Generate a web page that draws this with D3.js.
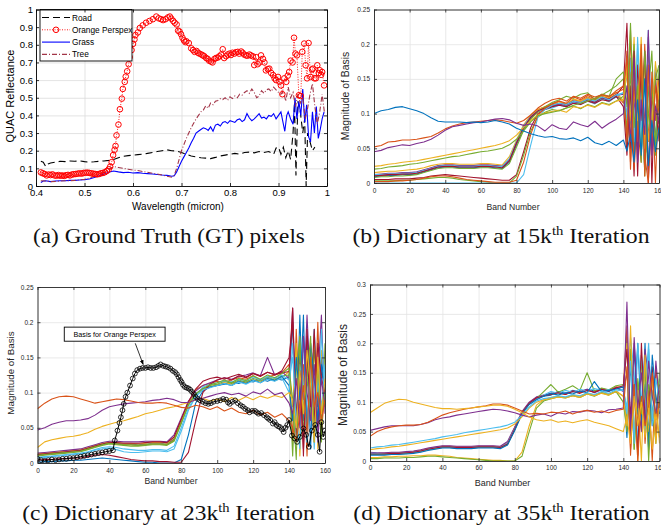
<!DOCTYPE html>
<html>
<head>
<meta charset="utf-8">
<script src="https://cdn.jsdelivr.net/npm/d3@7"></script>
<style>
  body { margin: 0; background: #fff; }
  svg { display: block; }
</style>
</head>
<body>
<div id="chart"></div>
<script>
// ---------- (a) ground truth spectra, [wavelength (micron), reflectance] ----------
var roadPts = [[.410,.140],[.415,.135],[.420,.110],[.425,.125],[.430,.130],[.440,.135],[.450,.140],[.460,.138],[.470,.142],[.480,.140],[.490,.142],[.500,.138],[.510,.135],[.520,.137],[.530,.140],[.540,.142],[.550,.145],[.560,.150],[.570,.160],[.580,.168],[.590,.172],[.600,.175],[.610,.178],[.620,.180],[.630,.185],[.640,.190],[.650,.195],[.660,.200],[.670,.205],[.680,.200],[.690,.198],[.700,.190],[.710,.180],[.720,.170],[.730,.165],[.740,.160],[.750,.158],[.760,.155],[.770,.162],[.780,.170],[.790,.175],[.800,.180],[.810,.185],[.820,.180],[.830,.190],[.840,.192],[.850,.188],[.860,.195],[.870,.190],[.880,.195],[.890,.180],[.895,.215],[.900,.220],[.905,.180],[.910,.220],[.915,.160],[.920,.200],[.925,.150],[.930,.300],[.933,.470],[.936,.060],[.940,.480],[.945,.420],[.950,.300],[.954,.380],[.957,.000],[.960,.300],[.965,.250],[.970,.200],[.975,.220]];

var perspexPts = [[.410,.077],[.414,.072],[.418,.068],[.422,.060],[.426,.065],[.430,.062],[.434,.066],[.438,.060],[.442,.058],[.446,.062],[.450,.058],[.454,.060],[.458,.057],[.462,.061],[.466,.063],[.470,.060],[.474,.065],[.478,.067],[.482,.068],[.486,.070],[.490,.072],[.494,.070],[.498,.074],[.502,.075],[.506,.076],[.510,.074],[.514,.072],[.518,.070],[.522,.068],[.526,.066],[.530,.068],[.534,.072],[.538,.074],[.542,.078],[.546,.085],[.550,.095],[.553,.110],[.556,.135],[.559,.175],[.562,.205],[.564,.227],[.566,.287],[.570,.348],[.573,.435],[.577,.495],[.579,.550],[.583,.590],[.585,.620],[.588,.650],[.591,.690],[.593,.730],[.597,.770],[.600,.805],[.603,.830],[.605,.855],[.610,.870],[.614,.895],[.620,.910],[.627,.925],[.634,.935],[.641,.945],[.648,.960],[.653,.950],[.658,.945],[.662,.940],[.667,.945],[.672,.955],[.676,.960],[.679,.948],[.683,.935],[.686,.925],[.690,.915],[.693,.880],[.696,.875],[.699,.860],[.702,.840],[.705,.825],[.708,.815],[.710,.820],[.715,.810],[.720,.780],[.724,.770],[.727,.760],[.731,.765],[.734,.755],[.737,.750],[.741,.745],[.744,.740],[.747,.735],[.751,.725],[.754,.720],[.757,.710],[.761,.705],[.764,.700],[.768,.720],[.771,.725],[.775,.728],[.778,.735],[.782,.745],[.785,.775],[.788,.725],[.792,.735],[.795,.745],[.799,.750],[.802,.742],[.805,.755],[.809,.750],[.812,.758],[.816,.760],[.819,.750],[.823,.762],[.826,.755],[.829,.745],[.833,.740],[.836,.738],[.840,.745],[.843,.740],[.847,.735],[.850,.685],[.854,.730],[.857,.690],[.861,.700],[.864,.740],[.868,.720],[.871,.700],[.874,.655],[.878,.662],[.881,.665],[.885,.640],[.889,.628],[.892,.610],[.895,.600],[.899,.618],[.902,.590],[.905,.570],[.908,.520],[.912,.610],[.916,.590],[.919,.625],[.922,.646],[.925,.710],[.929,.700],[.932,.840],[.935,.750],[.938,.740],[.942,.514],[.946,.510],[.949,.760],[.953,.807],[.956,.684],[.959,.610],[.962,.810],[.966,.618],[.969,.660],[.971,.665],[.974,.610],[.977,.610],[.980,.684],[.983,.640],[.985,.656],[.988,.630],[.990,.646],[.994,.570]];

var grassPts = [[.410,.020],[.415,.028],[.420,.030],[.430,.025],[.440,.028],[.450,.030],[.460,.030],[.470,.032],[.480,.032],[.490,.034],[.500,.036],[.510,.040],[.520,.048],[.530,.058],[.540,.068],[.550,.078],[.560,.085],[.570,.080],[.580,.076],[.590,.078],[.600,.074],[.610,.076],[.620,.072],[.630,.070],[.640,.068],[.650,.065],[.660,.062],[.670,.060],[.680,.055],[.685,.058],[.690,.080],[.695,.110],[.700,.140],[.705,.165],[.710,.190],[.715,.215],[.720,.245],[.725,.270],[.730,.300],[.735,.310],[.740,.320],[.745,.330],[.750,.325],[.755,.315],[.760,.335],[.765,.310],[.770,.345],[.775,.350],[.780,.340],[.785,.360],[.790,.365],[.795,.355],[.800,.370],[.805,.365],[.810,.360],[.815,.375],[.820,.380],[.825,.365],[.830,.375],[.835,.410],[.840,.385],[.845,.370],[.850,.380],[.855,.395],[.860,.410],[.865,.385],[.870,.390],[.875,.380],[.880,.400],[.885,.395],[.890,.410],[.895,.380],[.900,.400],[.905,.420],[.910,.350],[.913,.310],[.917,.400],[.920,.420],[.925,.380],[.930,.350],[.934,.500],[.938,.380],[.942,.480],[.946,.400],[.950,.550],[.954,.360],[.958,.460],[.962,.280],[.966,.250],[.970,.420],[.974,.300],[.978,.450],[.982,.270],[.986,.320],[.990,.380],[.994,.420]];

var treePts = [[.410,.030],[.420,.028],[.430,.025],[.440,.026],[.450,.028],[.460,.030],[.470,.030],[.480,.032],[.490,.035],[.500,.038],[.510,.045],[.520,.055],[.530,.065],[.540,.080],[.550,.095],[.560,.110],[.570,.105],[.580,.100],[.590,.095],[.600,.090],[.610,.088],[.620,.082],[.630,.078],[.640,.072],[.650,.068],[.660,.062],[.670,.055],[.680,.050],[.685,.060],[.690,.100],[.695,.150],[.700,.200],[.705,.235],[.710,.270],[.715,.300],[.720,.330],[.725,.355],[.730,.380],[.735,.400],[.740,.420],[.745,.430],[.750,.455],[.755,.440],[.760,.470],[.765,.460],[.770,.480],[.775,.485],[.780,.495],[.785,.490],[.790,.500],[.795,.485],[.800,.505],[.805,.495],[.810,.510],[.815,.500],[.820,.520],[.825,.515],[.830,.530],[.835,.540],[.840,.525],[.845,.550],[.850,.530],[.855,.500],[.860,.510],[.865,.540],[.870,.525],[.875,.545],[.880,.550],[.885,.535],[.890,.560],[.895,.545],[.900,.530],[.905,.520],[.910,.540],[.915,.480],[.920,.560],[.925,.500],[.930,.530],[.935,.450],[.940,.520],[.945,.470],[.950,.500],[.955,.380],[.960,.440],[.965,.520],[.970,.580],[.975,.450],[.980,.350],[.985,.420],[.990,.520],[.995,.410]];

var wlTicks = [0.4, 0.5, 0.6, 0.7, 0.8, 0.9, 1];
var reflTicks = [0, 0.1, 0.2, 0.3, 0.4, 0.5, 0.6, 0.7, 0.8, 0.9, 1];
var legendNames = ['Road', 'Orange Perspex', 'Grass', 'Tree'];

// ---------- dictionary panels: shared band grid ----------
var bands = [0,4,8,12,16,20,24,28,32,36,40,44,48,52,56,60,64,68,72,76,80,84,88,92,96,100,104,108,112,116,120,124,128,132,136,
             140,142,144,146,148,150,152,154,156,158,160];
var bandTicks = [0, 20, 40, 60, 80, 100, 120, 140, 160];
var basisTicks = [0, 0.05, 0.1, 0.15, 0.2, 0.25];
var basisTicksD = [0, 0.05, 0.1, 0.15, 0.2, 0.25, 0.3];

// (b) 15k iterations
var dict15k = [
  [.009,.010,.011,.011,.012, .012,.013,.016,.019,.022, .023,.023,.022,.022,.022, .023,.023,.022,.021,.030, .055,.078,.094,.103,.107, .110,.113,.111,.116,.115, .119,.115,.122,.119,.124, .120,.160,.080,.040,.170,.110,.020,.140,.090,.050,.130],
  [.011,.011,.012,.013,.013, .014,.015,.018,.021,.024, .026,.026,.025,.025,.025, .026,.026,.025,.024,.034, .058,.082,.097,.106,.110, .114,.118,.112,.120,.118, .124,.119,.125,.122,.128, .115,.190,.030,.130,.080,.030,.200,.060,.150,.000,.140],
  [.015,.016,.017,.017,.018, .019,.020,.022,.025,.027, .028,.028,.027,.027,.027, .028,.028,.027,.026,.038, .062,.084,.098,.106,.110, .113,.117,.114,.121,.118, .123,.118,.126,.123,.131, .118,.160,.090,.210,.040,.130,.170,.060,.110,.140,.100],
  [.012,.013,.014,.014,.015, .015,.016,.019,.022,.025, .026,.026,.025,.025,.025, .026,.026,.025,.024,.033, .057,.081,.095,.103,.107, .111,.114,.110,.117,.114, .120,.116,.123,.119,.126, .128,.070,.165,.120,.050,.180,.090,.030,.130,.110,.085],
  [.008,.009,.009,.010,.010, .011,.012,.015,.018,.021, .022,.022,.021,.021,.021, .022,.022,.021,.020,.028, .052,.076,.092,.102,.110, .116,.120,.125,.122,.128, .130,.120,.127,.133,.140, .150,.050,.120,.200,.070,.150,.020,.130,.190,.040,.120],
  [.012,.012,.013,.013,.014, .014,.015,.018,.021,.024, .025,.025,.024,.024,.024, .025,.025,.024,.024,.035, .060,.082,.096,.104,.106, .108,.112,.110,.116,.113, .118,.114,.121,.117,.125, .130,.090,.175,.040,.200,.060,.150,.020,.120,.070,.110],
  [.010,.011,.012,.012,.013, .013,.014,.017,.020,.023, .024,.024,.023,.023,.023, .024,.024,.023,.022,.032, .058,.080,.095,.104,.108, .112,.115,.113,.118,.116, .121,.117,.123,.121,.127, .140,.230,.050,.190,.010,.170,.030,.210,.000,.160,.060],
  [.005,.005,.005,.006,.006, .006,.007,.008,.010,.011, .012,.011,.010,.009,.008, .007,.006,.005,.004,.004, .012,.045,.080,.100,.106, .110,.112,.110,.115,.113, .118,.115,.120,.118,.125, .110,.040,.140,.010,.170,.090,.190,.000,.120,.100,.070],
  [.003,.003,.003,.003,.004, .004,.005,.006,.007,.008, .008,.007,.005,.004,.003, .002,.001,.000,.000,.000, .010,.040,.075,.095,.102, .106,.104,.108,.111,.107, .113,.110,.116,.113,.118, .125,.080,.160,.030,.120,.180,.010,.100,.140,.060,.165],
  [.000,.000,.000,.000,.000, .000,.000,.000,.000,.000, .000,.000,.000,.000,.000, .000,.000,.000,.000,.000, .000,.012,.055,.095,.106, .112,.115,.113,.118,.116, .121,.118,.124,.120,.127, .130,.100,.180,.060,.210,.080,.030,.220,.050,.170,.130],
  [.002,.002,.002,.003,.003, .004,.005,.007,.009,.010, .010,.009,.007,.005,.004, .003,.002,.001,.001,.001, .004,.030,.070,.098,.108, .114,.118,.115,.124,.120, .126,.121,.128,.124,.133, .140,.060,.220,.020,.110,.180,.040,.000,.160,.090,.150],
  [.024,.025,.027,.028,.030, .031,.032,.034,.036,.038, .040,.042,.044,.046,.048, .050,.052,.054,.057,.061, .069,.080,.090,.098,.101, .103,.105,.102,.110,.108, .112,.109,.115,.112,.118, .120,.170,.070,.130,.090,.210,.050,.160,.080,.175,.120],
  [.020,.021,.023,.024,.025, .027,.028,.030,.032,.034, .036,.038,.039,.041,.043, .045,.046,.048,.050,.055, .063,.075,.088,.097,.100, .102,.104,.108,.112,.115, .118,.122,.128,.125,.150, .160,.110,.230,.080,.140,.030,.190,.100,.060,.150,.170],
  [.052,.054,.059,.060,.062, .062,.063,.065,.067,.072, .078,.082,.085,.087,.088, .089,.090,.091,.090,.088, .086,.090,.098,.108,.115, .120,.122,.118,.125,.122, .128,.124,.127,.125,.130, .135,.180,.020,.150,.060,.200,.010,.170,.050,.140,.100],
  [.045,.047,.051,.053,.055, .054,.057,.059,.063,.069, .076,.081,.083,.085,.087, .088,.090,.092,.093,.091, .086,.083,.085,.082,.075, .084,.079,.077,.088,.084, .081,.089,.079,.086,.092, .100,.140,.060,.180,.030,.120,.070,.220,.040,.110,.090],
  [.100,.104,.106,.109,.110, .107,.104,.100,.094,.089, .088,.088,.088,.087,.088, .087,.088,.090,.088,.085, .079,.075,.071,.068,.066, .067,.064,.063,.065,.061, .066,.058,.055,.060,.054, .062,.046,.070,.030,.120,.040,.150,.025,.090,.045,.080]
];
var dict15kColor = [0,1,2,3,4,5,6,6,4,5,1,2,4,1,3,0];

// (c) 23k iterations
var dict23k = [
  [.012,.013,.014,.015,.016, .017,.018,.021,.024,.027, .029,.028,.027,.027,.026, .027,.028,.028,.027,.034, .058,.085,.098,.106,.108, .110,.112,.115,.113,.117, .115,.119,.116,.120,.118, .122,.200,.040,.210,.060,.180,.020,.190,.080,.150,.100],
  [.011,.012,.013,.014,.015, .016,.017,.020,.023,.026, .028,.027,.026,.026,.025, .026,.027,.027,.026,.033, .060,.086,.104,.110,.113, .116,.115,.118,.121,.119, .124,.117,.122,.125,.128, .140,.030,.190,.070,.140,.010,.170,.050,.200,.040,.110],
  [.013,.014,.015,.016,.017, .018,.019,.022,.025,.028, .030,.029,.028,.028,.027, .028,.029,.029,.028,.036, .061,.085,.097,.104,.108, .111,.114,.112,.116,.114, .118,.115,.120,.117,.121, .130,.080,.170,.010,.120,.150,.060,.180,.020,.160,.130],
  [.014,.015,.016,.017,.018, .019,.020,.023,.026,.029, .031,.031,.030,.030,.030, .031,.031,.031,.030,.040, .064,.088,.102,.110,.114, .118,.121,.119,.123,.125, .128,.124,.150,.125,.130, .120,.220,.050,.130,.090,.210,.100,.030,.120,.210,.070],
  [.010,.011,.012,.013,.014, .015,.016,.019,.022,.025, .027,.026,.025,.024,.024, .025,.026,.026,.025,.031, .056,.082,.097,.105,.110, .112,.116,.113,.118,.115, .120,.117,.122,.118,.124, .125,.010,.130,.180,.040,.120,.070,.160,.110,.030,.170],
  [.008,.009,.010,.011,.012, .013,.014,.016,.019,.022, .023,.022,.020,.019,.018, .018,.019,.019,.018,.024, .050,.078,.095,.108,.112, .114,.117,.115,.119,.117, .122,.118,.123,.120,.125, .118,.150,.070,.020,.180,.060,.140,.100,.030,.190,.090],
  [.012,.013,.014,.015,.016, .017,.018,.021,.024,.027, .029,.029,.028,.028,.028, .029,.030,.030,.029,.037, .062,.087,.105,.116,.120, .122,.119,.123,.126,.122, .127,.124,.129,.126,.128, .130,.220,.040,.120,.020,.150,.080,.190,.050,.130,.110],
  [.001,.002,.002,.003,.003, .004,.004,.005,.006,.007, .006,.005,.004,.003,.002, .001,.001,.000,.000,.000, .005,.040,.085,.102,.108, .110,.113,.110,.116,.113, .118,.114,.120,.117,.123, .110,.060,.150,.090,.210,.030,.170,.120,.060,.140,.090],
  [.004,.005,.005,.006,.006, .007,.007,.009,.011,.012, .011,.009,.007,.005,.004, .003,.003,.002,.002,.001, .001,.015,.060,.100,.112, .118,.121,.118,.124,.121, .127,.123,.129,.125,.131, .150,.200,.060,.160,.010,.190,.090,.060,.170,.120,.100],
  [.007,.008,.009,.010,.011, .012,.013,.015,.018,.020, .021,.019,.016,.015,.015, .016,.017,.017,.016,.020, .045,.075,.094,.104,.107, .110,.113,.110,.115,.112, .117,.114,.119,.116,.121, .100,.170,.050,.140,.110,.030,.150,.020,.120,.080,.140],
  [.011,.012,.013,.014,.015, .016,.017,.020,.023,.026, .028,.027,.026,.026,.025, .026,.027,.027,.026,.032, .057,.083,.098,.106,.111, .114,.118,.114,.120,.117, .124,.119,.125,.121,.127, .135,.090,.005,.170,.070,.120,.180,.030,.140,.060,.100],
  [.022,.030,.033,.035,.037, .038,.040,.043,.048,.052, .055,.058,.060,.063,.066, .070,.072,.075,.078,.080, .083,.086,.090,.092,.088, .091,.087,.093,.089,.094, .090,.095,.092,.096,.093, .100,.090,.050,.130,.070,.160,.110,.030,.150,.070,.120],
  [.047,.050,.055,.058,.060, .060,.061,.063,.068,.075, .080,.082,.084,.085,.086, .087,.089,.090,.092,.090, .086,.086,.090,.092,.095, .098,.100,.097,.099,.095, .101,.098,.105,.097,.100, .085,.070,.120,.050,.180,.100,.060,.140,.030,.120,.080],
  [.077,.085,.091,.094,.095, .094,.091,.088,.085,.087, .089,.091,.090,.088,.086, .085,.085,.086,.085,.082, .079,.078,.082,.080,.076, .080,.074,.078,.072,.070, .075,.068,.072,.065,.070, .060,.050,.030,.070,.110,.040,.150,.080,.100,.060,.090]
];
var dict23kColor = [0,1,2,3,4,5,6,0,6,5,4,2,3,1];

// learned basis of the orange perspex at 23k, [band, magnitude]
var perspexBasis = [[0,.006],[2,.004],[4,.003],[6,.004],[8,.005],[10,.004],[12,.005],[14,.006],[16,.006],[18,.007],[20,.007],[22,.008],[24,.009],[26,.010],[28,.011],[30,.012],[32,.013],[34,.014],[36,.015],[38,.016],[40,.017],[42,.018],[43,.032],[44.5,.046],[45.6,.057],[46.4,.065],[47.3,.075],[48,.084],[49,.094],[50,.100],[51.5,.110],[53,.120],[54.2,.127],[55.5,.132],[57,.134],[58.5,.135],[60,.135],[61.5,.136],[63,.135],[64.5,.135],[66,.136],[67.3,.138],[68.5,.140],[70,.138],[71.3,.137],[72.6,.136],[74,.134],[75.3,.131],[76.6,.129],[77.6,.126],[78.5,.122],[79.4,.118],[80.2,.115],[81,.111],[82,.108],[83,.107],[84,.106],[85,.104],[86,.101],[87,.098],[88,.094],[89.2,.091],[90.5,.089],[92,.087],[93.5,.085],[95,.084],[96.5,.085],[98,.087],[100,.088],[101.7,.089],[103.3,.091],[105,.090],[106,.086],[107,.084],[108.5,.087],[110,.089],[111.5,.085],[113,.082],[114.3,.080],[115.6,.077],[117,.075],[118,.072],[119.5,.074],[121,.074],[122,.072],[123,.070],[124.5,.071],[126,.068],[127.6,.065],[128.5,.063],[129.5,.061],[131,.056],[132,.058],[133,.054],[134,.052],[135,.051],[136,.048],[137,.044],[138,.050],[139,.054],[140,.061],[141.6,.039],[143,.035],[144.5,.030],[146,.037],[148,.049],[149.5,.040],[151,.023],[152.7,.046],[154.6,.054],[156,.040],[157,.016],[158,.058],[159,.037],[160,.046]];

// (d) 35k iterations
var dict35k = [
  [.013,.012,.012,.013,.013, .014,.015,.017,.020,.022, .024,.024,.023,.023,.023, .024,.024,.024,.023,.030, .055,.082,.098,.107,.110, .112,.118,.115,.120,.117, .122,.119,.121,.118,.124, .120,.210,.050,.190,.080,.060,.200,.040,.150,.100,.080],
  [.014,.013,.013,.014,.014, .015,.016,.018,.021,.023, .025,.025,.024,.024,.024, .025,.025,.025,.024,.031, .057,.083,.099,.108,.111, .114,.116,.113,.119,.116, .121,.117,.123,.120,.126, .125,.230,.010,.140,.060,.180,.030,.120,.000,.160,.090],
  [.006,.006,.007,.007,.008, .008,.009,.009,.010,.010, .009,.008,.006,.005,.004, .003,.002,.001,.001,.000, .000,.015,.060,.095,.104, .108,.110,.108,.112,.110, .115,.112,.117,.114,.119, .110,.200,.030,.130,.000,.170,.090,.050,.150,.110,.030],
  [.015,.014,.014,.015,.015, .016,.017,.019,.022,.024, .026,.026,.025,.025,.025, .026,.026,.026,.025,.033, .058,.084,.100,.109,.112, .115,.117,.114,.119,.118, .122,.116,.121,.119,.125, .118,.150,.060,.210,.100,.050,.190,.140,.060,.170,.100],
  [.011,.011,.011,.012,.012, .013,.014,.016,.019,.021, .023,.023,.022,.022,.022, .023,.023,.023,.022,.028, .053,.081,.097,.106,.118, .130,.117,.122,.128,.120, .150,.119,.124,.121,.128, .130,.070,.190,.020,.110,.170,.050,.130,.090,.030,.120],
  [.013,.013,.012,.013,.013, .014,.015,.017,.020,.022, .024,.024,.023,.023,.023, .024,.024,.024,.023,.030, .055,.082,.097,.106,.112, .118,.115,.120,.117,.122, .119,.123,.120,.121,.118, .122,.090,.210,.150,.030,.180,.120,.200,.060,.090,.140],
  [.012,.012,.012,.013,.013, .014,.015,.017,.020,.022, .024,.024,.023,.023,.023, .024,.024,.024,.023,.029, .054,.082,.098,.107,.111, .113,.116,.113,.118,.115, .120,.117,.122,.119,.124, .128,.190,.080,.130,.010,.200,.070,.090,.160,.040,.110],
  [.010,.010,.010,.011,.011, .012,.013,.015,.018,.020, .022,.022,.021,.021,.021, .022,.022,.022,.021,.027, .052,.080,.096,.104,.110, .115,.112,.116,.114,.119, .116,.135,.118,.120,.122, .126,.040,.160,.100,.200,.070,.130,.020,.180,.110,.080],
  [.004,.004,.005,.005,.005, .006,.006,.007,.008,.008, .007,.006,.005,.004,.003, .002,.001,.000,.000,.000, .000,.008,.050,.090,.102, .106,.109,.107,.111,.108, .114,.110,.116,.112,.118, .100,.050,.190,.020,.140,.080,.160,.000,.120,.070,.150],
  [.019,.021,.022,.024,.025, .027,.029,.031,.033,.035, .037,.039,.041,.043,.045, .047,.049,.051,.053,.056, .063,.075,.090,.100,.104, .106,.109,.107,.111,.108, .114,.111,.115,.112,.118, .110,.060,.230,.050,.120,.000,.180,.080,.140,.030,.110],
  [.022,.024,.025,.027,.028, .030,.032,.034,.036,.038, .041,.043,.045,.048,.050, .052,.054,.056,.058,.061, .066,.078,.092,.102,.106, .108,.111,.109,.113,.111, .116,.113,.118,.115,.121, .120,.080,.170,.030,.200,.110,.050,.190,.070,.140,.100],
  [.052,.055,.058,.060,.060, .060,.060,.062,.065,.070, .073,.075,.078,.080,.082, .084,.086,.088,.087,.085, .082,.078,.075,.078,.080, .076,.082,.080,.084,.083, .086,.085,.082,.087,.088, .090,.270,.040,.200,.090,.150,.060,.170,.110,.080,.130],
  [.042,.050,.055,.058,.060, .061,.061,.062,.066,.072, .078,.082,.085,.088,.090, .092,.094,.097,.097,.095, .090,.085,.080,.081,.080, .083,.082,.085,.080,.084, .086,.083,.085,.082,.086, .088,.160,.020,.130,.000,.110,.060,.090,.150,.070,.100],
  [.082,.090,.098,.102,.105, .104,.100,.097,.094,.091, .089,.089,.088,.089,.090, .092,.093,.095,.095,.093, .088,.082,.075,.070,.068, .070,.066,.068,.065,.068, .070,.066,.063,.060,.055, .050,.075,.030,.110,.060,.100,.040,.090,.020,.080,.040]
];
var dict35kColor = [0,1,2,3,4,5,6,0,4,2,5,3,1,2];

// MATLAB default colour order
var palette = ['#0072BD', '#D95319', '#EDB120', '#7E2F8E', '#77AC30', '#4DBEEE', '#A2142F'];
var sans = '"Liberation Sans", Arial, Helvetica, sans-serif';

var svg = d3.select('#chart').append('svg')
    .attr('width', 661)
    .attr('height', 527);

var fmt = d3.format('~g');

// draws grid, clipped plot layer and boxed axes with inward ticks (matlab look)
function panel(p) {
  var x = d3.scaleLinear().domain(p.xDomain).range([p.left, p.right]);
  var y = d3.scaleLinear().domain(p.yDomain).range([p.bottom, p.top]);
  var w = p.right - p.left, h = p.bottom - p.top;
  var g = svg.append('g');

  var grid = g.append('g');
  grid.append('g').attr('transform', 'translate(0,' + p.bottom + ')')
      .call(d3.axisBottom(x).tickValues(p.xTicks).tickSize(-h).tickFormat(''));
  grid.append('g').attr('transform', 'translate(' + p.left + ',0)')
      .call(d3.axisLeft(y).tickValues(p.yTicks).tickSize(-w).tickFormat(''));
  grid.selectAll('.domain').remove();
  grid.selectAll('line').attr('stroke', p.grid).attr('stroke-width', 0.8);

  svg.append('clipPath').attr('id', 'clip-' + p.name)
    .append('rect').attr('x', p.left).attr('y', p.top).attr('width', w).attr('height', h);
  var plot = g.append('g').attr('clip-path', 'url(#clip-' + p.name + ')');
  var over = g.append('g');

  var ax = g.append('g');
  ax.append('g').attr('transform', 'translate(0,' + p.bottom + ')')
      .call(d3.axisBottom(x).tickValues(p.xTicks).tickSize(-3).tickSizeOuter(0).tickPadding(p.xPad).tickFormat(fmt));
  ax.append('g').attr('transform', 'translate(0,' + p.top + ')')
      .call(d3.axisTop(x).tickValues(p.xTicks).tickSize(-3).tickSizeOuter(0).tickFormat(''));
  ax.append('g').attr('transform', 'translate(' + p.left + ',0)')
      .call(d3.axisLeft(y).tickValues(p.yTicks).tickSize(-3).tickSizeOuter(0).tickPadding(p.yPad).tickFormat(fmt));
  ax.append('g').attr('transform', 'translate(' + p.right + ',0)')
      .call(d3.axisRight(y).tickValues(p.yTicks).tickSize(-3).tickSizeOuter(0).tickFormat(''));
  ax.selectAll('g').attr('font-family', sans).attr('font-size', p.tickFont);
  ax.selectAll('.domain').attr('stroke', p.axis).attr('stroke-width', 0.9);
  ax.selectAll('.tick line').attr('stroke', p.axis).attr('stroke-width', 0.8);
  ax.selectAll('text').attr('fill', p.axis);

  svg.append('text')
    .attr('x', p.xLabel[1]).attr('y', p.xLabel[2])
    .attr('text-anchor', 'middle')
    .attr('font-family', sans).attr('font-size', p.xLabel[3])
    .attr('fill', p.axis)
    .text(p.xLabel[0]);
  svg.append('text')
    .attr('transform', 'translate(' + p.yLabel[1] + ',' + p.yLabel[2] + ') rotate(-90)')
    .attr('text-anchor', 'middle')
    .attr('dominant-baseline', 'central')
    .attr('font-family', sans).attr('font-size', p.yLabel[3])
    .attr('fill', p.axis)
    .text(p.yLabel[0]);

  return {x: x, y: y, plot: plot, over: over};
}

// serif caption squeezed/stretched to the width it has in the paper
function caption(cx, base, width, pre, sup, post) {
  var t = svg.append('text')
    .attr('x', cx).attr('y', base)
    .attr('text-anchor', 'middle')
    .attr('font-family', '"Liberation Serif", "Times New Roman", serif')
    .attr('font-size', 21)
    .attr('fill', '#111');
  t.append('tspan').text(pre);
  if (sup) {
    t.append('tspan').attr('dy', -8).attr('font-size', 13).text(sup);
    t.append('tspan').attr('dy', 8).text(post);
  }
  var bw = t.node().getBBox().width;
  var sx = width / bw;
  t.attr('transform', 'translate(' + cx + ',0) scale(' + sx + ',1) translate(' + (-cx) + ',0)');
}

function dictionary(p, series, colors) {
  var f = panel(p);
  var line = d3.line()
    .x(function(d, i) { return f.x(bands[i]); })
    .y(function(d) { return f.y(d); });
  f.plot.selectAll('path.basis')
    .data(series)
    .enter()
    .append('path')
      .attr('class', 'basis')
      .attr('d', line)
      .attr('fill', 'none')
      .attr('stroke', function(d, i) { return palette[colors[i]]; })
      .attr('stroke-width', 1.1)
      .attr('stroke-linejoin', 'round');
  return f;
}

// ---------- (a) ----------
var pa = panel({
  name: 'a', left: 36, right: 327, top: 9.5, bottom: 186,
  xDomain: [0.4, 1], yDomain: [0, 1], xTicks: wlTicks, yTicks: reflTicks,
  xPad: 3.5, yPad: 3, tickFont: 9.5, axis: '#000', grid: '#dcdcdc',
  xLabel: ['Wavelength (micron)', 178, 209.5, 10],
  yLabel: ['QUAC Reflectance', 10, 96, 11]
});
var wl = d3.line().x(function(d) { return pa.x(d[0]); }).y(function(d) { return pa.y(d[1]); });
var gtStyles = [
  {data: roadPts, color: '#000000', dash: '7,4', width: 1.1},
  {data: perspexPts, color: '#ff0000', dash: '1,1.5', width: 0.9},
  {data: grassPts, color: '#0000ff', dash: null, width: 1.1},
  {data: treePts, color: '#a23548', dash: '5,2,1,2', width: 1.1}
];
pa.plot.selectAll('path.gt')
  .data(gtStyles)
  .enter()
  .append('path')
    .attr('class', 'gt')
    .attr('d', function(d) { return wl(d.data); })
    .attr('fill', 'none')
    .attr('stroke', function(d) { return d.color; })
    .attr('stroke-width', function(d) { return d.width; })
    .attr('stroke-dasharray', function(d) { return d.dash; });
// perspex circle markers
pa.plot.selectAll('circle.perspex')
  .data(perspexPts)
  .enter()
  .append('circle')
    .attr('class', 'perspex')
    .attr('cx', function(d) { return pa.x(d[0]); })
    .attr('cy', function(d) { return pa.y(d[1]); })
    .attr('r', 2.8)
    .attr('fill', 'none')
    .attr('stroke', '#ff0000')
    .attr('stroke-width', 1);

// legend
var lg = pa.over.append('g').attr('transform', 'translate(40,9.5)');
lg.append('rect').attr('width', 92).attr('height', 51.5)
  .attr('fill', '#fff').attr('stroke', '#000').attr('stroke-width', 0.9);
legendNames.forEach(function(name, i) {
  var s = gtStyles[i], yy = 8 + i * 12.3;
  lg.append('line').attr('x1', 2).attr('x2', 30).attr('y1', yy).attr('y2', yy)
    .attr('stroke', s.color).attr('stroke-width', s.width).attr('stroke-dasharray', s.dash);
  if (i === 1) {
    lg.append('circle').attr('cx', 16).attr('cy', yy).attr('r', 2.8)
      .attr('fill', 'none').attr('stroke', s.color).attr('stroke-width', 1);
  }
  lg.append('text').attr('x', 32).attr('y', yy).attr('dominant-baseline', 'central')
    .attr('font-family', sans).attr('font-size', 8.3).attr('fill', '#000').text(name);
});

// ---------- (b) ----------
dictionary({
  name: 'b', left: 374, right: 659, top: 9.5, bottom: 183,
  xDomain: [0, 160], yDomain: [0, 0.25], xTicks: bandTicks, yTicks: basisTicks,
  xPad: 5.5, yPad: 4, tickFont: 6.5, axis: '#262626', grid: '#e3e3e3',
  xLabel: ['Band Number', 513, 210, 8.6],
  yLabel: ['Magnitude of Basis', 345, 96, 10.4]
}, dict15k, dict15kColor);

// ---------- (c) ----------
var pc = dictionary({
  name: 'c', left: 37.5, right: 325, top: 287, bottom: 463,
  xDomain: [0, 160], yDomain: [0, 0.25], xTicks: bandTicks, yTicks: basisTicks,
  xPad: 5.5, yPad: 4, tickFont: 6.5, axis: '#262626', grid: '#e3e3e3',
  xLabel: ['Band Number', 171, 484, 8.6],
  yLabel: ['Magnitude of Basis', 10, 373, 9.8]
}, dict23k, dict23kColor);
var bl = d3.line().x(function(d) { return pc.x(d[0]); }).y(function(d) { return pc.y(d[1]); });
pc.plot.append('path').attr('d', bl(perspexBasis))
  .attr('fill', 'none').attr('stroke', '#000').attr('stroke-width', 1);
pc.plot.selectAll('circle.pb')
  .data(perspexBasis)
  .enter()
  .append('circle')
    .attr('class', 'pb')
    .attr('cx', function(d) { return pc.x(d[0]); })
    .attr('cy', function(d) { return pc.y(d[1]); })
    .attr('r', 2.4)
    .attr('fill', 'none')
    .attr('stroke', '#000')
    .attr('stroke-width', 0.8);

// annotation box + arrow, placed in data units
var note = {x0: 14.9, x1: 71, y0: 0.173, y1: 0.193, tail: [54.4, 0.170], tip: [58.8, 0.140]};
svg.append('defs').append('marker')
  .attr('id', 'arrow').attr('viewBox', '0 0 10 10').attr('refX', 9).attr('refY', 5)
  .attr('markerWidth', 6).attr('markerHeight', 6).attr('orient', 'auto')
  .append('path').attr('d', 'M0,1 L10,5 L0,9 Z').attr('fill', '#000');
pc.over.append('line')
  .attr('x1', pc.x(note.tail[0])).attr('y1', pc.y(note.tail[1]))
  .attr('x2', pc.x(note.tip[0])).attr('y2', pc.y(note.tip[1]))
  .attr('stroke', '#000').attr('stroke-width', 0.8).attr('marker-end', 'url(#arrow)');
pc.over.append('rect')
  .attr('x', pc.x(note.x0)).attr('y', pc.y(note.y1))
  .attr('width', pc.x(note.x1) - pc.x(note.x0)).attr('height', pc.y(note.y0) - pc.y(note.y1))
  .attr('fill', '#fff').attr('stroke', '#000').attr('stroke-width', 0.9);
pc.over.append('text')
  .attr('x', pc.x((note.x0 + note.x1) / 2)).attr('y', pc.y((note.y0 + note.y1) / 2))
  .attr('text-anchor', 'middle').attr('dominant-baseline', 'central')
  .attr('font-family', sans).attr('font-size', 7.2).attr('fill', '#000')
  .text('Basis for Orange Perspex');

// ---------- (d) ----------
dictionary({
  name: 'd', left: 370, right: 659.5, top: 284.5, bottom: 461,
  xDomain: [0, 160], yDomain: [0, 0.3], xTicks: bandTicks, yTicks: basisTicksD,
  xPad: 4.5, yPad: 4, tickFont: 6.5, axis: '#262626', grid: '#e3e3e3',
  xLabel: ['Band Number', 502.5, 485.5, 9],
  yLabel: ['Magnitude of Basis', 343, 375, 12]
}, dict35k, dict35kColor);

// ---------- captions ----------
caption(169, 243, 272, '(a) Ground Truth (GT) pixels');
caption(501, 243, 298, '(b) Dictionary at 15k', 'th', ' Iteration');
caption(168.5, 520, 293, '(c) Dictionary at 23k', 'th', ' Iteration');
caption(501.5, 520, 297, '(d) Dictionary at 35k', 'th', ' Iteration');
</script>
</body>
</html>
